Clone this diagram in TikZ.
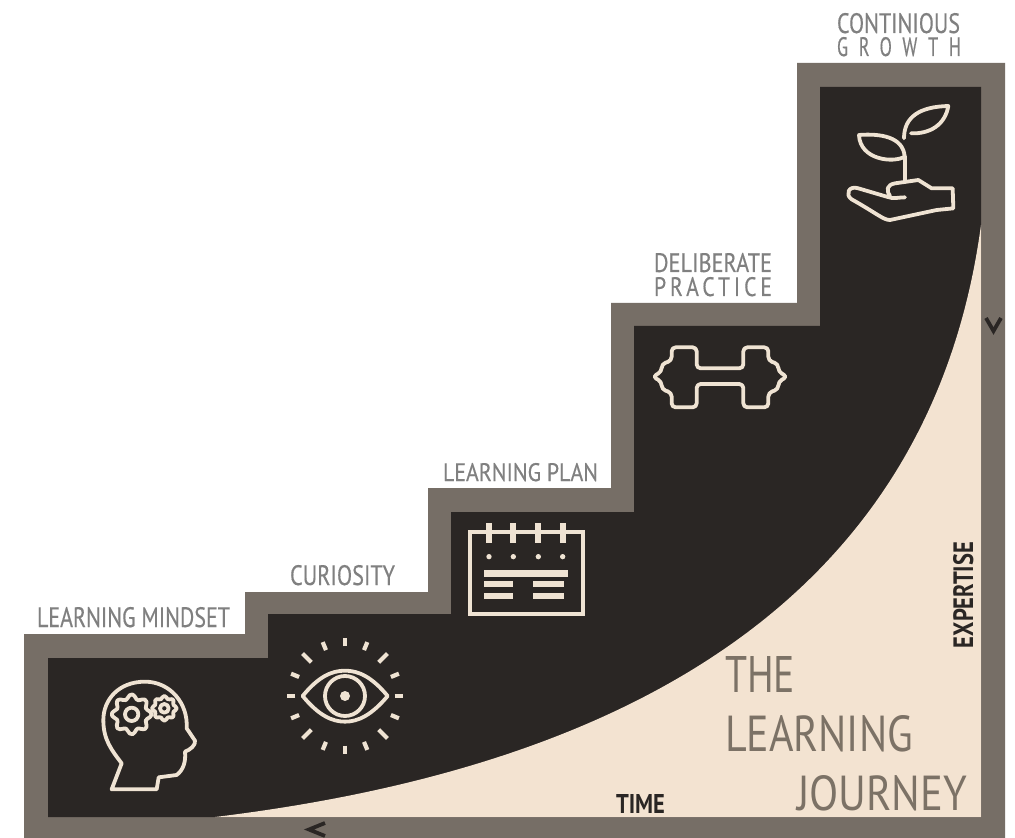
\documentclass[tikz,border=0pt]{standalone}
\usepackage{graphicx}
\usepackage{fontspec}
\setmainfont{PT Sans}
\definecolor{frame}{HTML}{766E66}
\definecolor{ink}{HTML}{2A2624}
\definecolor{cream}{HTML}{F3E3D1}
\definecolor{icon}{HTML}{EFE3D3}
\definecolor{lab}{HTML}{808080}
\definecolor{title}{HTML}{7C7266}
\newlength{\pxu}\setlength{\pxu}{0.75pt}
% name, x-left, y-baseline, width, capheight, colour, font settings, text
\newcommand{\fitlabel}[8]{\node[textfit,text=#6,anchor=base west] (#1) at (#2,#3) {\resizebox{#4\pxu}{#5\pxu}{#7#8}};}
\tikzset{
  textfit/.style={inner sep=0pt,outer sep=0pt},
  iconline/.style={draw=icon,line width=3.8\pxu,line join=round,line cap=round,fill=none},
  iconrule/.style={draw=icon,line width=#1*\pxu,line cap=butt},
  ticklabel/.style={draw=ink,line width=3.8\pxu,line join=miter},
}
\begin{document}
\begin{tikzpicture}[x=0.75pt,y=-0.75pt]
\useasboundingbox (0,0) rectangle (1015,838);
\fill[white] (0,0) rectangle (1015,838);
% frame
\fill[frame] (24,838) -- (24,634) -- (245,634) -- (245,592) -- (428,592) -- (428,488) -- (611,488) -- (611,303) -- (797,303) -- (797,63) -- (1005,63) -- (1005,838) -- cycle;
% dark stair
\fill[ink] (48,817) -- (48,658) -- (268,658) -- (268,614) -- (451,614) -- (451,512) -- (634,512) -- (634,326) -- (820,326) -- (820,87) -- (981,87) -- (981,817) -- cycle;
% cream area
\fill[cream] (215,817) .. controls (560,775) and (925,640) .. (981,225) -- (981,817) -- cycle;
% axis ticks
\draw[ticklabel] (325,823) -- (309,829.5) -- (325,836);
\draw[ticklabel] (986,318) -- (993.5,331) -- (1001,318);
% labels
\fitlabel{a}{37}{627}{193}{20}{lab}{\addfontfeature{FakeBold=0.4}}{LEARNING MINDSET}
\fitlabel{b}{290}{585}{105}{20}{lab}{\addfontfeature{FakeBold=0.4}}{CURIOSITY}
\fitlabel{c}{443}{481}{155}{18}{lab}{\addfontfeature{FakeBold=0.4}}{LEARNING PLAN}
\fitlabel{d}{654}{272}{118}{19}{lab}{\addfontfeature{FakeBold=0.4}}{DELIBERATE}
\fitlabel{e}{654}{296}{118}{19}{lab}{\addfontfeature{LetterSpace=18,FakeBold=0.4}}{PRACTICE}
\fitlabel{f}{837}{33}{123}{20}{lab}{\addfontfeature{FakeBold=0.4}}{CONTINIOUS}
\fitlabel{g}{837}{56}{124}{19}{lab}{\addfontfeature{LetterSpace=60,FakeBold=0.4}}{GROWTH}
\fitlabel{t1}{725}{692}{70}{36}{title}{}{THE}
\fitlabel{t2}{725}{751}{188}{36}{title}{}{LEARNING}
\fitlabel{t3}{797}{810}{170}{35}{title}{}{JOURNEY}
\fitlabel{time}{616}{813}{49}{19}{ink}{\bfseries}{TIME}
\node[textfit,text=ink,anchor=base west,rotate=90] (exp) at (973,648) {\resizebox{106\pxu}{20\pxu}{\bfseries EXPERTISE}};
% head and gears
\begin{scope}[shift={(20,580)},x=0.25pt,y=-0.25pt]
  \draw[iconline] (275,628) -- (410,628) -- (416,592) -- (470,585) .. controls (490,570) and (498,545) .. (495,515) .. controls (510,510) and (528,495) .. (525,482) -- (500,445) .. controls (505,370) and (450,305) .. (375,305) .. controls (295,305) and (250,360) .. (250,420) .. controls (250,480) and (275,510) .. (305,550) -- cycle;
  \draw[iconline] plot[smooth cycle,domain=0:352,samples=45] ([shift={(335,403)}]\x:{53+7*cos(8*\x)});
  \draw[iconline] (335,403) circle[radius=20];
  \draw[iconline] plot[smooth cycle,domain=0:350,samples=36] ([shift={(433,385)}]\x:{33+4*cos(8*\x)});
  \draw[iconline] (433,385) circle[radius=13];
\end{scope}
% eye
\begin{scope}[shift={(20,580)},x=0.25pt,y=-0.25pt]
  \draw[iconline] (848,348) .. controls (895,290) and (935,272) .. (975,272) .. controls (1015,272) and (1055,290) .. (1103,348) .. controls (1055,405) and (1015,425) .. (975,425) .. controls (935,425) and (895,405) .. (848,348) -- cycle;
  \draw[iconline] (975,348) circle[radius=60];
  \fill[icon] (975,348) circle[radius=15];
  \foreach \a in {0,22.5,67.5,90,112.5,157.5,180,202.5,247.5,270,292.5,337.5}
    \draw[iconline,line width=4.2\pxu,line cap=butt] ([shift={(975,348)}]\a:149) -- ([shift={(975,348)}]\a:175);
  \foreach \a in {45,135,225,315}
    \draw[iconline,line width=4.2\pxu,line cap=butt] ([shift={(975,348)}]\a:143) -- ([shift={(975,348)}]\a:180);
\end{scope}
% calendar
\begin{scope}[shift={(430,240)},x=0.25pt,y=-0.25pt]
  \draw[iconline,line width=4\pxu,line join=miter] (120,875) rectangle (458,1122);
  \foreach \c in {177,250,325,398} {
    \draw[iconrule=6] (\c,850) -- (\c,908);
    \fill[icon] (\c,950) circle[radius=8];
  }
  \draw[iconrule=6.5] (162,1000) -- (415,1000);
  \draw[iconrule=6] (162,1032) -- (250,1032);
  \draw[iconrule=6] (310,1032) -- (402,1032);
  \draw[iconrule=6] (162,1068) -- (250,1068);
  \draw[iconrule=6] (310,1068) -- (402,1068);
\end{scope}
% dumbbell
\begin{scope}[shift={(430,240)},x=0.25pt,y=-0.25pt]
  \draw[iconline,rounded corners=3pt] (800,385) -- (800,322) -- (725,322) -- (725,362) -- (695,372) -- (695,395) -- (668,410) -- (695,425) -- (695,448) -- (725,458) -- (725,502) -- (800,502) -- (800,432) -- (940,432) -- (940,502) -- (1015,502) -- (1015,458) -- (1045,448) -- (1045,425) -- (1072,410) -- (1045,395) -- (1045,372) -- (1015,362) -- (1015,322) -- (940,322) -- (940,385) -- cycle;
\end{scope}
% plant
\begin{scope}[shift={(780,0)},x=0.25pt,y=-0.25pt]
  \draw[iconline] (372,415) .. controls (372,350) and (420,320) .. (505,318) .. controls (495,375) and (450,402) .. (393,400);
  \draw[iconline] (237,405) .. controls (300,400) and (370,410) .. (374,470) .. controls (340,490) and (240,480) .. (237,405) -- cycle;
  \draw[iconline] (374,470) -- (374,545);
  \draw[iconline] (330,588) .. controls (318,570) and (320,555) .. (345,550) -- (415,540) -- (455,565) -- (518,565) -- (520,625) -- (470,630) -- (330,660) .. controls (310,660) and (290,640) .. (215,598) .. controls (195,585) and (205,555) .. (235,565) -- (320,590) .. controls (340,598) and (355,592) .. (375,592);
\end{scope}
\end{tikzpicture}
\end{document}
